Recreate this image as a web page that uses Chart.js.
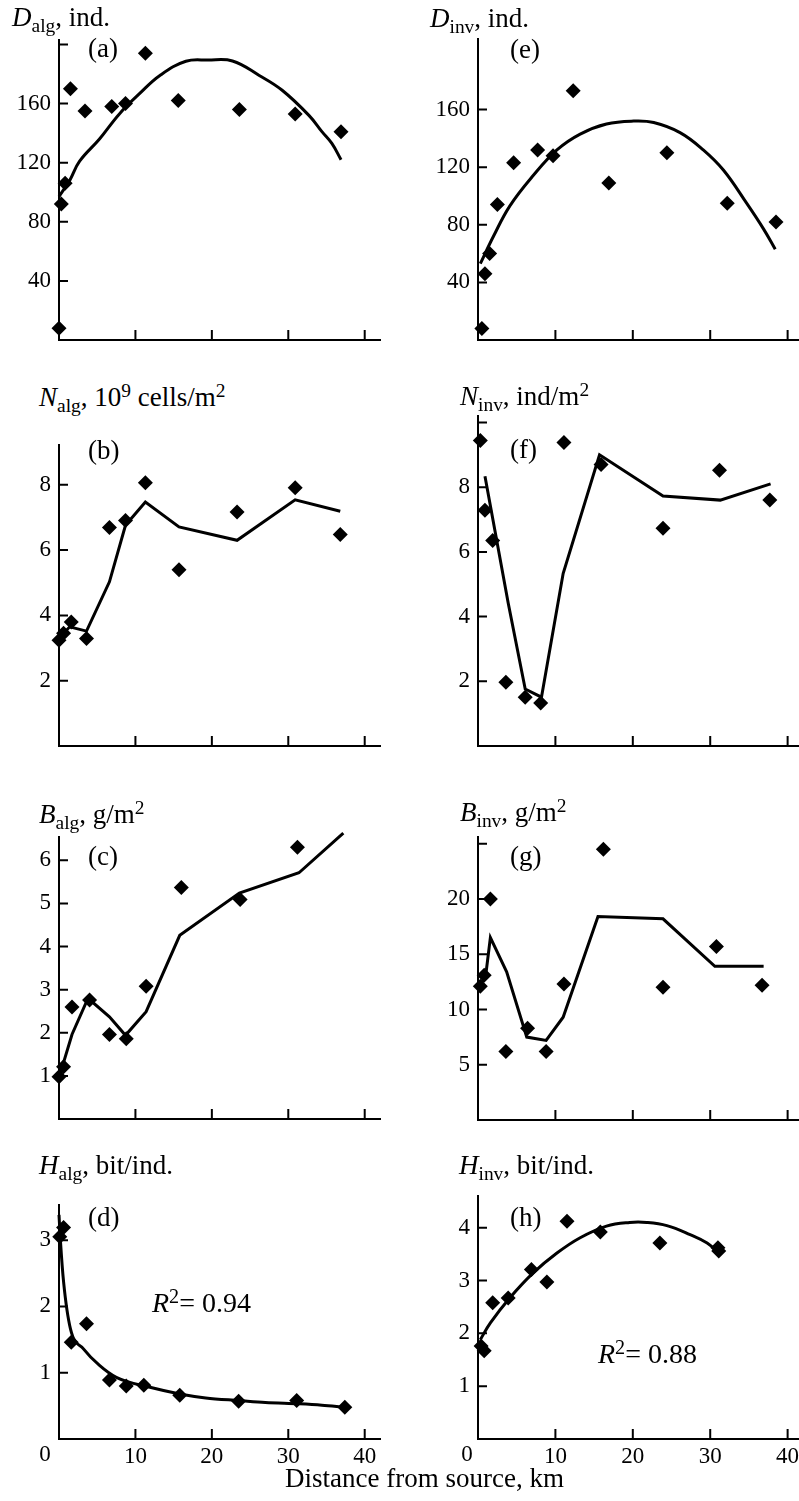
<!DOCTYPE html>
<html>
<head>
<meta charset="utf-8">
<script src="https://cdn.jsdelivr.net/npm/chart.js@4.4.1/dist/chart.umd.min.js"></script>
<style>
  html, body { margin: 0; padding: 0; background: #fff; }
  #page { position: relative; width: 799px; height: 1501px; overflow: hidden;
          font-family: "Liberation Serif", "Times New Roman", serif; color: #000; }
  canvas { position: absolute; }
  .txt { position: absolute; white-space: nowrap; line-height: 1; }
  .txt sub { font-size: 0.72em; vertical-align: -0.32em; line-height: 0; }
  .txt sup { font-size: 0.72em; vertical-align: 0.45em; line-height: 0; }
</style>
</head>
<body>
<div id="page"></div>
<script>
// distance ticks shared by all panels
const xTicks = [0, 10, 20, 30, 40];
const xTickLabels = ["", "10", "20", "30", "40"];

// (a) D_alg, ind.
const dAlgX = [0, 0.3, 0.8, 1.5, 3.4, 6.9, 8.7, 11.3, 15.6, 23.6, 30.9, 36.9];
const dAlgY = [8, 92, 106, 170, 155, 158, 160, 194, 162, 156, 153, 141];
const dAlgFitX = [0, 1.4, 2.7, 5.3, 7.9, 10.6, 13.2, 16.6, 19.5, 22.7, 26.2, 29.2, 32.7, 34.4, 35.7, 36.9];
const dAlgFitY = [97, 108, 121, 136, 153, 167, 179, 188.6, 189.4, 188.8, 179, 169, 152, 141, 133, 122];
const dAlgTicks = [40, 80, 120, 160, 200];
const dAlgTickLabels = ["40", "80", "120", "160", ""];

// (b) N_alg, 10^9 cells/m2
const nAlgX = [0, 0.6, 1.6, 3.6, 6.6, 8.7, 11.3, 15.7, 23.3, 30.9, 36.8];
const nAlgY = [3.24, 3.45, 3.80, 3.29, 6.69, 6.91, 8.06, 5.40, 7.17, 7.91, 6.48];
const nAlgFitX = [0, 1.4, 3.6, 6.6, 8.7, 11.3, 15.7, 23.3, 30.9, 36.8];
const nAlgFitY = [3.3, 3.65, 3.52, 5.03, 6.76, 7.47, 6.71, 6.30, 7.54, 7.19];
const nAlgTicks = [2, 4, 6, 8];
const nAlgTickLabels = ["2", "4", "6", "8"];

// (c) B_alg, g/m2
const bAlgX = [0, 0.6, 1.7, 4.0, 6.6, 8.8, 11.4, 16.0, 23.7, 31.2, 37.3];
const bAlgY = [0.98, 1.21, 2.60, 2.76, 1.96, 1.86, 3.08, 5.37, 5.09, 6.30, 6.96];
const bAlgFitX = [0, 1.7, 3.8, 6.6, 8.7, 11.4, 15.8, 23.6, 31.4, 37.2];
const bAlgFitY = [0.96, 1.96, 2.80, 2.37, 1.94, 2.49, 4.26, 5.24, 5.71, 6.63];
const bAlgTicks = [1, 2, 3, 4, 5, 6];
const bAlgTickLabels = ["1", "2", "3", "4", "5", "6"];

// (d) H_alg, bit/ind.
const hAlgX = [0.1, 0.6, 1.6, 3.6, 6.6, 8.8, 11.1, 15.8, 23.5, 31.1, 37.4];
const hAlgY = [3.05, 3.19, 1.46, 1.74, 0.89, 0.80, 0.81, 0.66, 0.57, 0.58, 0.48];
const hAlgFitX = [0, 0.2, 0.6, 1.5, 3.2, 5.3, 7.5, 11.9, 15.8, 19.2, 23.6, 27.0, 31.4, 34.4, 37.3];
const hAlgFitY = [3.38, 2.97, 2.37, 1.66, 1.36, 1.11, 0.93, 0.78, 0.68, 0.62, 0.58, 0.55, 0.53, 0.51, 0.48];
const hAlgTicks = [1, 2, 3];
const hAlgTickLabels = ["1", "2", "3"];

// (e) D_inv, ind.
const dInvX = [0.5, 0.9, 1.5, 2.5, 4.6, 7.7, 9.7, 12.3, 16.9, 24.4, 32.2, 38.5];
const dInvY = [8, 46, 60, 94, 123, 132, 128, 173, 109, 130, 95, 82];
const dInvFitX = [0.3, 2.0, 4.1, 7.1, 10.2, 13.2, 16.6, 20.1, 22.7, 26.1, 29.1, 31.7, 34.7, 36.9, 38.4];
const dInvFitY = [53, 72, 93, 114, 132, 143, 150, 152, 151, 144, 132, 118, 95, 77, 63];
const dInvTicks = [40, 80, 120, 160];
const dInvTickLabels = ["40", "80", "120", "160"];

// (f) N_inv, ind/m2
const nInvX = [0.3, 0.9, 1.9, 3.6, 6.1, 8.1, 11.1, 15.9, 23.9, 31.2, 37.7];
const nInvY = [9.44, 7.29, 6.35, 1.97, 1.51, 1.33, 9.38, 8.70, 6.73, 8.52, 7.60];
const nInvFitX = [0.9, 3.9, 6.1, 8.2, 11.0, 15.7, 23.9, 31.3, 37.8];
const nInvFitY = [8.34, 4.42, 1.76, 1.51, 5.33, 9.0, 7.73, 7.6, 8.1];
const nInvTicks = [2, 4, 6, 8, 10];
const nInvTickLabels = ["2", "4", "6", "8", ""];

// (g) B_inv, g/m2
const bInvX = [0.3, 0.8, 1.6, 3.6, 6.4, 8.8, 11.1, 16.2, 23.9, 30.8, 36.7];
const bInvY = [12.1, 13.1, 20.0, 6.2, 8.3, 6.2, 12.3, 24.5, 12.0, 15.7, 12.2];
const bInvFitX = [0.3, 1.0, 1.6, 3.7, 6.3, 8.8, 11.0, 15.5, 23.9, 30.6, 36.9];
const bInvFitY = [12.2, 13.1, 16.5, 13.4, 7.5, 7.2, 9.3, 18.4, 18.2, 13.9, 13.9];
const bInvTicks = [5, 10, 15, 20, 25];
const bInvTickLabels = ["5", "10", "15", "20", ""];

// (h) H_inv, bit/ind.
const hInvX = [0.4, 0.8, 1.9, 3.9, 6.9, 8.9, 11.5, 15.8, 23.5, 31.0, 31.1];
const hInvY = [1.76, 1.67, 2.58, 2.67, 3.21, 2.97, 4.12, 3.92, 3.71, 3.62, 3.56];
const hInvFitX = [0.3, 1.6, 4.1, 7.1, 10.2, 13.2, 16.6, 19.6, 21.8, 24.4, 27.4, 29.6, 31.1];
const hInvFitY = [1.88, 2.20, 2.67, 3.14, 3.52, 3.81, 4.03, 4.10, 4.10, 4.04, 3.87, 3.71, 3.52];
const hInvTicks = [1, 2, 3, 4];
const hInvTickLabels = ["1", "2", "3", "4"];

const FONT = '"Liberation Serif", "Times New Roman", serif';
const page = document.getElementById("page");

const toPoints = (xs, ys) => xs.map((x, i) => ({ x: x, y: ys[i] }));

// ticks point inward, and the "0" of the distance axis sits left of the origin
const inwardTicks = {
  id: "inwardTicks",
  afterDraw(chart, args, opts) {
    const { ctx, chartArea: area, scales } = chart;
    ctx.save();
    ctx.strokeStyle = "#000";
    ctx.lineWidth = 2;
    ctx.beginPath();
    scales.y.ticks.forEach((t) => {
      const py = scales.y.getPixelForValue(t.value);
      ctx.moveTo(area.left, py);
      ctx.lineTo(area.left + 9, py);
    });
    scales.x.ticks.forEach((t) => {
      if (t.value === 0) return;
      const px = scales.x.getPixelForValue(t.value);
      ctx.moveTo(px, area.bottom);
      ctx.lineTo(px, area.bottom - 10);
    });
    ctx.stroke();
    if (opts.zeroLabel) {
      ctx.fillStyle = "#000";
      ctx.font = "23px " + FONT;
      ctx.textAlign = "center";
      ctx.textBaseline = "top";
      ctx.fillText("0", scales.x.getPixelForValue(0) - opts.zeroShift, area.bottom + 4);
    }
    ctx.restore();
  },
};

function makePanel(p) {
  const left = p.col === 0 ? 0 : 400;
  const width = p.col === 0 ? 400 : 430;
  const axisX = p.col === 0 ? 59 : 78;
  const padRight = p.col === 0 ? 20 : 31;
  const padTop = 26;
  const bottomSpace = p.xLabels ? 42 : 26;

  const canvas = document.createElement("canvas");
  canvas.width = width;
  canvas.height = p.bottom - p.top + padTop + bottomSpace;
  canvas.style.left = left + "px";
  canvas.style.top = p.top - padTop + "px";
  page.appendChild(canvas);

  new Chart(canvas, {
    type: "scatter",
    data: {
      datasets: [
        {
          data: toPoints(p.fitX, p.fitY),
          showLine: true,
          borderColor: "#000",
          borderWidth: 3,
          pointRadius: 0,
          cubicInterpolationMode: p.curve === "monotone" ? "monotone" : "default",
          tension: p.curve === "smooth" ? 0.4 : 0,
          clip: false,
        },
        {
          data: toPoints(p.x, p.y),
          pointStyle: "rectRot",
          pointRadius: 7.5,
          backgroundColor: "#000",
          borderWidth: 0,
          clip: false,
        },
      ],
    },
    options: {
      responsive: false,
      animation: false,
      devicePixelRatio: 1,
      layout: { padding: { top: padTop, right: padRight, left: 0, bottom: 0 } },
      plugins: {
        legend: { display: false },
        tooltip: { enabled: false },
        inwardTicks: { zeroLabel: !!p.xLabels, zeroShift: p.col === 0 ? 14 : 11 },
      },
      scales: {
        x: {
          type: "linear",
          min: 0,
          max: p.col === 0 ? 42 : 41.47,
          grid: { display: false, drawTicks: false },
          border: { display: true, color: "#000", width: 2 },
          afterBuildTicks: (s) => { s.ticks = xTicks.map((v) => ({ value: v })); },
          afterFit: (s) => { s.height = bottomSpace; },
          ticks: {
            display: !!p.xLabels,
            autoSkip: false,
            maxRotation: 0,
            padding: 4,
            color: "#000",
            font: { family: FONT, size: 23 },
            callback: (v, i) => xTickLabels[i],
          },
        },
        y: {
          type: "linear",
          min: 0,
          max: p.yMax,
          grid: { display: false, drawTicks: false },
          border: { display: true, color: "#000", width: 2 },
          afterBuildTicks: (s) => { s.ticks = p.yTicks.map((v) => ({ value: v })); },
          afterFit: (s) => { s.width = axisX; },
          ticks: {
            autoSkip: false,
            padding: 8,
            color: "#000",
            font: { family: FONT, size: 23 },
            callback: (v, i) => p.yTickLabels[i],
          },
        },
      },
    },
    plugins: [inwardTicks],
  });
}

function addText(html, x, baseline, size) {
  const d = document.createElement("div");
  d.className = "txt";
  d.style.fontSize = size + "px";
  d.style.left = x + "px";
  d.style.top = baseline - 0.8375 * size + "px";
  d.innerHTML = html;
  page.appendChild(d);
}

const panels = [
  { col: 0, top: 40, bottom: 340, yMax: 203, x: dAlgX, y: dAlgY, fitX: dAlgFitX, fitY: dAlgFitY,
    yTicks: dAlgTicks, yTickLabels: dAlgTickLabels, curve: "smooth" },
  { col: 0, top: 445, bottom: 746.5, yMax: 9.22, x: nAlgX, y: nAlgY, fitX: nAlgFitX, fitY: nAlgFitY,
    yTicks: nAlgTicks, yTickLabels: nAlgTickLabels, curve: "straight" },
  { col: 0, top: 837, bottom: 1119.5, yMax: 6.54, x: bAlgX, y: bAlgY, fitX: bAlgFitX, fitY: bAlgFitY,
    yTicks: bAlgTicks, yTickLabels: bAlgTickLabels, curve: "straight" },
  { col: 0, top: 1205, bottom: 1439, yMax: 3.53, x: hAlgX, y: hAlgY, fitX: hAlgFitX, fitY: hAlgFitY,
    yTicks: hAlgTicks, yTickLabels: hAlgTickLabels, curve: "monotone", xLabels: true },
  { col: 1, top: 39, bottom: 340, yMax: 209, x: dInvX, y: dInvY, fitX: dInvFitX, fitY: dInvFitY,
    yTicks: dInvTicks, yTickLabels: dInvTickLabels, curve: "smooth" },
  { col: 1, top: 416, bottom: 746.5, yMax: 10.2, x: nInvX, y: nInvY, fitX: nInvFitX, fitY: nInvFitY,
    yTicks: nInvTicks, yTickLabels: nInvTickLabels, curve: "straight" },
  { col: 1, top: 837, bottom: 1120, yMax: 25.6, x: bInvX, y: bInvY, fitX: bInvFitX, fitY: bInvFitY,
    yTicks: bInvTicks, yTickLabels: bInvTickLabels, curve: "straight" },
  { col: 1, top: 1196, bottom: 1439, yMax: 4.6, x: hInvX, y: hInvY, fitX: hInvFitX, fitY: hInvFitY,
    yTicks: hInvTicks, yTickLabels: hInvTickLabels, curve: "smooth", xLabels: true },
];
panels.forEach(makePanel);

// axis titles
addText("<i>D</i><sub>alg</sub>, ind.", 12, 27, 27);
addText("<i>N</i><sub>alg</sub>, 10<sup>9</sup> cells/m<sup>2</sup>", 39, 407, 27);
addText("<i>B</i><sub>alg</sub>, g/m<sup>2</sup>", 39, 824, 27);
addText("<i>H</i><sub>alg</sub>, bit/ind.", 39, 1175, 27);
addText("<i>D</i><sub>inv</sub>, ind.", 430, 28, 27);
addText("<i>N</i><sub>inv</sub>, ind/m<sup>2</sup>", 460, 406, 27);
addText("<i>B</i><sub>inv</sub>, g/m<sup>2</sup>", 460, 822, 27);
addText("<i>H</i><sub>inv</sub>, bit/ind.", 459, 1175, 27);

// panel letters
addText("(a)", 88, 58, 27);
addText("(b)", 88, 460, 27);
addText("(c)", 88, 866, 27);
addText("(d)", 88, 1227, 27);
addText("(e)", 510, 59, 27);
addText("(f)", 510, 459, 27);
addText("(g)", 510, 866, 27);
addText("(h)", 510, 1227, 27);

addText("<i>R</i><sup>2</sup>= 0.94", 152, 1312, 28);
addText("<i>R</i><sup>2</sup>= 0.88", 598, 1363, 28);

addText("Distance from source, km", 285, 1488, 27);
</script>
</body>
</html>
